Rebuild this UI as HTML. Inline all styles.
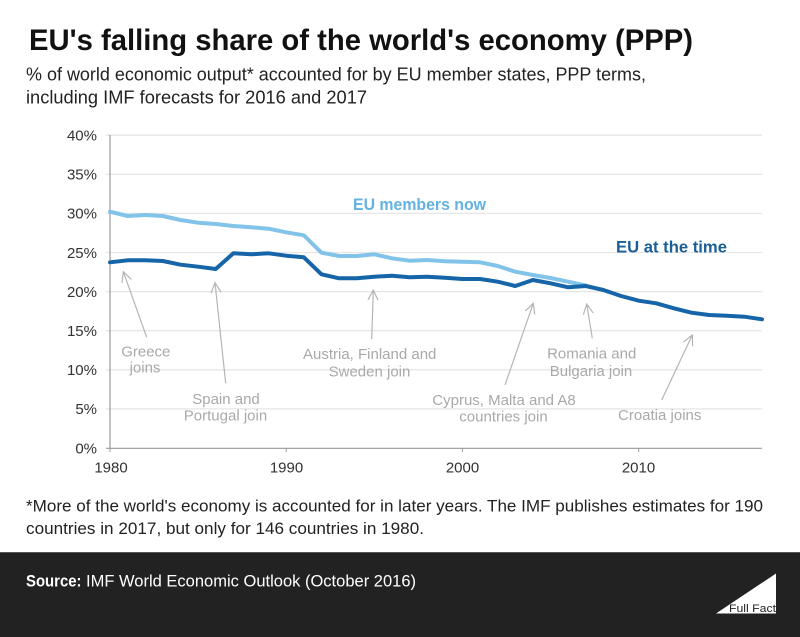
<!DOCTYPE html>
<html>
<head>
<meta charset="utf-8">
<style>
  html,body{margin:0;padding:0;background:#fff;}
  body{width:800px;height:637px;overflow:hidden;}
  svg{display:block;}
  text{font-family:"Liberation Sans", sans-serif;}
</style>
</head>
<body>
<svg width="800" height="637" viewBox="0 0 800 637" xmlns="http://www.w3.org/2000/svg">
  <defs>
    <marker id="ah" viewBox="0 0 12 12" refX="11" refY="6" markerWidth="12" markerHeight="12" markerUnits="userSpaceOnUse" orient="auto">
      <path d="M1,1 L11,6 L1,11" fill="none" stroke="#b5b5b5" stroke-width="1.2"/>
    </marker>
  </defs>
  <rect x="0" y="0" width="800" height="637" fill="#fff"/>

  <!-- Title -->
  <text x="29" y="50" font-size="30" font-weight="bold" fill="#111" textLength="664" lengthAdjust="spacingAndGlyphs">EU's falling share of the world's economy (PPP)</text>
  <text x="26" y="80.5" font-size="18" fill="#222" textLength="620" lengthAdjust="spacingAndGlyphs">% of world economic output* accounted for by EU member states, PPP terms,</text>
  <text x="26" y="103.3" font-size="18" fill="#222" textLength="341" lengthAdjust="spacingAndGlyphs">including IMF forecasts for 2016 and 2017</text>

  <!-- Gridlines -->
  <g stroke="#e6e6e6" stroke-width="1.3">
    <line x1="106" y1="135.2" x2="762" y2="135.2"/>
    <line x1="106" y1="174.3" x2="762" y2="174.3"/>
    <line x1="106" y1="213.4" x2="762" y2="213.4"/>
    <line x1="106" y1="252.5" x2="762" y2="252.5"/>
    <line x1="106" y1="291.6" x2="762" y2="291.6"/>
    <line x1="106" y1="330.7" x2="762" y2="330.7"/>
    <line x1="106" y1="369.8" x2="762" y2="369.8"/>
    <line x1="106" y1="408.9" x2="762" y2="408.9"/>
  </g>
  <!-- Axes -->
  <line x1="110" y1="135" x2="110" y2="448.5" stroke="#999" stroke-width="1.2"/>
  <line x1="106" y1="448.3" x2="762" y2="448.3" stroke="#999" stroke-width="1.2"/>
  <g stroke="#999" stroke-width="1">
    <line x1="110" y1="448" x2="110" y2="452"/>
    <line x1="286.2" y1="448" x2="286.2" y2="452"/>
    <line x1="462.4" y1="448" x2="462.4" y2="452"/>
    <line x1="638.7" y1="448" x2="638.7" y2="452"/>
  </g>

  <!-- Y labels -->
  <g font-size="15" fill="#333" text-anchor="end">
    <text x="97" y="140.5">40%</text>
    <text x="97" y="179.6">35%</text>
    <text x="97" y="218.7">30%</text>
    <text x="97" y="257.8">25%</text>
    <text x="97" y="296.9">20%</text>
    <text x="97" y="336">15%</text>
    <text x="97" y="375.1">10%</text>
    <text x="97" y="414.2">5%</text>
    <text x="97" y="453.3">0%</text>
  </g>
  <!-- X labels -->
  <g font-size="15" fill="#333" text-anchor="middle">
    <text x="111" y="472.5">1980</text>
    <text x="286.5" y="472.5">1990</text>
    <text x="462.5" y="472.5">2000</text>
    <text x="638.5" y="472.5">2010</text>
  </g>

  <!-- Light line: EU members now -->
  <polyline fill="none" stroke="#82c3ea" stroke-width="4" stroke-linejoin="round" stroke-linecap="round"
    points="110,211.7 127.6,216 145.2,215 162.9,216 180.5,220 198.1,222.7 215.7,224 233.4,226 251,227.3 268.6,228.7 286.2,232.3 303.8,235.3 321.5,252.7 339.1,256 356.7,256 374.3,254.3 391.9,258.3 409.6,260.7 427.2,260 444.8,261.3 462.4,261.7 480.1,262.3 497.7,266 515.3,271.7 532.9,275 550.6,278 568.2,281.7 585.8,285.5"/>
  <!-- Dark line: EU at the time -->
  <polyline fill="none" stroke="#1565a8" stroke-width="4" stroke-linejoin="round" stroke-linecap="round"
    points="110,262.3 127.6,260.3 145.2,260.3 162.9,261 180.5,264.7 198.1,266.7 215.7,269 233.4,253.3 251,254.3 268.6,253.3 286.2,255.7 303.8,257.3 321.5,274.3 339.1,278.3 356.7,278.3 374.3,276.7 391.9,275.7 409.6,277.3 427.2,276.7 444.8,277.7 462.4,279 480.1,279 497.7,281.7 515.3,286 532.9,280 550.6,283.3 568.2,287.3 585.8,286 603.4,290 621,296 638.7,300.7 656.3,303.3 673.9,308.3 691.5,312.7 709.1,315 726.8,315.7 744.4,316.7 762,319.3"/>

  <!-- Series labels -->
  <text x="353" y="210" font-size="17" font-weight="bold" fill="#63b2e2" textLength="133" lengthAdjust="spacingAndGlyphs">EU members now</text>
  <text x="616" y="252.7" font-size="17" font-weight="bold" fill="#1a5f98" textLength="111" lengthAdjust="spacingAndGlyphs">EU at the time</text>

  <!-- Arrows -->
  <g stroke="#b5b5b5" stroke-width="1.2" fill="none" marker-end="url(#ah)">
    <line x1="146.7" y1="337.3" x2="123.3" y2="271.7"/>
    <line x1="225.7" y1="383.3" x2="215" y2="282.7"/>
    <line x1="371.7" y1="339.3" x2="373.3" y2="290"/>
    <line x1="505" y1="385" x2="533.3" y2="303.3"/>
    <line x1="592.3" y1="338.3" x2="586.7" y2="304"/>
    <line x1="661.7" y1="400" x2="692.3" y2="335"/>
  </g>

  <!-- Annotation text -->
  <g font-size="15" fill="#a9a9a9" text-anchor="middle">
    <text x="145.8" y="356.7">Greece</text>
    <text x="145" y="372.5">joins</text>
    <text x="226" y="404">Spain and</text>
    <text x="225.5" y="420.7">Portugal join</text>
    <text x="369.7" y="359">Austria, Finland and</text>
    <text x="369.5" y="376.7">Sweden join</text>
    <text x="504" y="405">Cyprus, Malta and A8</text>
    <text x="503.5" y="421.7">countries join</text>
    <text x="591.7" y="358.3">Romania and</text>
    <text x="591" y="376">Bulgaria join</text>
    <text x="659.7" y="420">Croatia joins</text>
  </g>

  <!-- Footnote -->
  <text x="26" y="511.7" font-size="17" fill="#222" textLength="737" lengthAdjust="spacingAndGlyphs">*More of the world's economy is accounted for in later years.  The IMF publishes estimates for 190</text>
  <text x="26" y="534" font-size="17" fill="#222" textLength="398" lengthAdjust="spacingAndGlyphs">countries in 2017, but only for 146 countries in 1980.</text>

  <!-- Footer -->
  <rect x="0" y="552" width="800" height="85" fill="#222"/>
  <line x1="0" y1="552.5" x2="800" y2="552.5" stroke="#555" stroke-width="1"/>
  <text x="26" y="586.7" font-size="17" font-weight="bold" fill="#fff" textLength="55.5" lengthAdjust="spacingAndGlyphs">Source:</text>
  <text x="86" y="586.7" font-size="17" fill="#fff" textLength="330" lengthAdjust="spacingAndGlyphs">IMF World Economic Outlook (October 2016)</text>

  <!-- Full Fact logo -->
  <polygon points="716,613.5 776,573.5 776,613.5" fill="#fff"/>
  <text x="776" y="612" font-size="11" fill="#222" text-anchor="end" textLength="47" lengthAdjust="spacingAndGlyphs">Full Fact</text>
</svg>
</body>
</html>
